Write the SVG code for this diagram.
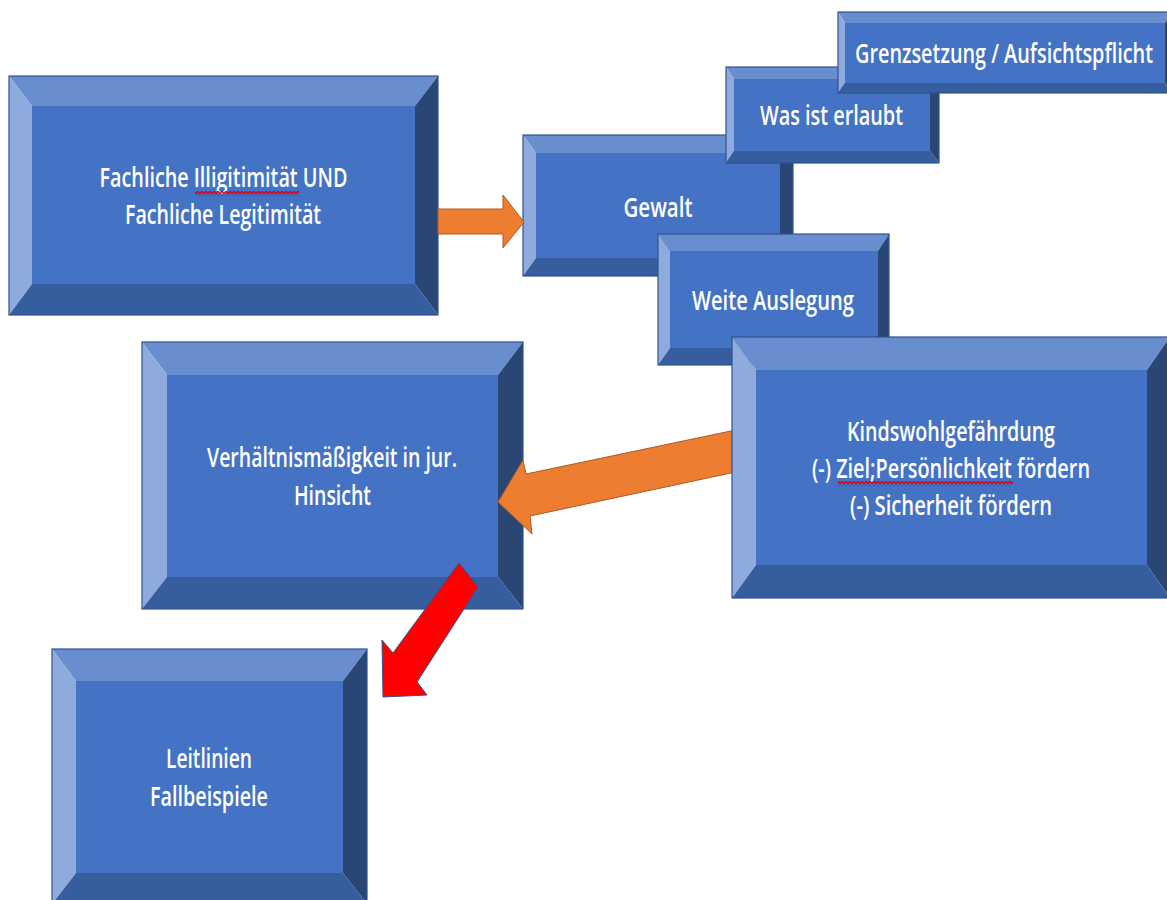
<svg xmlns="http://www.w3.org/2000/svg" width="1167" height="900" viewBox="0 0 1167 900">
  <defs>
    <style>
      .face { fill: #4472C4; }
      .bt { fill: #698ED0; }
      .bl { fill: #8FAADC; }
      .br { fill: #294675; }
      .bb { fill: #365E9E; }
      .edge { fill: none; stroke: #2F528F; stroke-width: 1.2; }
      .label { font-family: "Open Sans", "Liberation Sans", sans-serif; font-size: 27px; font-weight: 600; fill: #FFFFFF; text-anchor: middle; }
      .orange { fill: #ED7D31; stroke: #AE5A21; stroke-width: 1; stroke-linejoin: miter; }
      .red { fill: #FF0000; stroke: #2F528F; stroke-width: 1; }
    </style>
    <!-- wavy red spell-check underline -->
    <pattern id="squiggle" width="4" height="5" patternUnits="userSpaceOnUse">
      <path d="M0,4 L2,1 L4,4" fill="none" stroke="#E3000F" stroke-width="1.4"/>
    </pattern>
  </defs>

  <rect width="1167" height="900" fill="#FFFFFF"/>

  <!-- Fachliche Illigitimität UND Fachliche Legitimität -->
  <g id="fachlich">
    <rect class="face" x="32" y="106" width="383" height="178"/>
    <polygon class="bt" points="9,76 438,76 415,106 32,106"/>
    <polygon class="bl" points="9,76 32,106 32,284 9,315"/>
    <polygon class="br" points="438,76 438,315 415,284 415,106"/>
    <polygon class="bb" points="9,315 32,284 415,284 438,315"/>
    <rect class="edge" x="9" y="76" width="429" height="239"/>
    <text class="label" x="223.5" y="187" textLength="248" lengthAdjust="spacingAndGlyphs">Fachliche Illigitimität UND</text>
    <text class="label" x="223" y="224" textLength="196" lengthAdjust="spacingAndGlyphs">Fachliche Legitimität</text>
    <rect x="195" y="191" width="104" height="5" fill="url(#squiggle)"/>
  </g>

  <!-- Gewalt -->
  <g id="gewalt">
    <rect class="face" x="536" y="153" width="244" height="105"/>
    <polygon class="bt" points="523,135 793,135 780,153 536,153"/>
    <polygon class="bl" points="523,135 536,153 536,258 523,276"/>
    <polygon class="br" points="793,135 793,276 780,258 780,153"/>
    <polygon class="bb" points="523,276 536,258 780,258 793,276"/>
    <rect class="edge" x="523" y="135" width="270" height="141"/>
    <text class="label" x="658" y="217" textLength="69" lengthAdjust="spacingAndGlyphs">Gewalt</text>
  </g>

  <!-- Was ist erlaubt -->
  <g id="erlaubt">
    <rect class="face" x="734" y="79" width="196" height="72"/>
    <polygon class="bt" points="726,67 939,67 930,79 734,79"/>
    <polygon class="bl" points="726,67 734,79 734,151 726,163"/>
    <polygon class="br" points="939,67 939,163 930,151 930,79"/>
    <polygon class="bb" points="726,163 734,151 930,151 939,163"/>
    <rect class="edge" x="726" y="67" width="213" height="96"/>
    <text class="label" x="831.5" y="125" textLength="143" lengthAdjust="spacingAndGlyphs">Was ist erlaubt</text>
  </g>

  <!-- Grenzsetzung / Aufsichtspflicht -->
  <g id="grenzsetzung">
    <rect class="face" x="845" y="23" width="320" height="60"/>
    <polygon class="bt" points="838,12 1172,12 1165,23 845,23"/>
    <polygon class="bl" points="838,12 845,23 845,83 838,93"/>
    <polygon class="br" points="1172,12 1172,93 1165,83 1165,23"/>
    <polygon class="bb" points="838,93 845,83 1165,83 1172,93"/>
    <rect class="edge" x="838" y="12" width="334" height="81"/>
    <text class="label" x="1004" y="63" textLength="298" lengthAdjust="spacingAndGlyphs">Grenzsetzung / Aufsichtspflicht</text>
  </g>

  <!-- Weite Auslegung -->
  <g id="auslegung">
    <rect class="face" x="670" y="251" width="208" height="97"/>
    <polygon class="bt" points="658,234 889,234 878,251 670,251"/>
    <polygon class="bl" points="658,234 670,251 670,348 658,365"/>
    <polygon class="br" points="889,234 889,365 878,348 878,251"/>
    <polygon class="bb" points="658,365 670,348 878,348 889,365"/>
    <rect class="edge" x="658" y="234" width="231" height="131"/>
    <text class="label" x="773" y="310" textLength="162" lengthAdjust="spacingAndGlyphs">Weite Auslegung</text>
  </g>

  <!-- Verhältnismäßigkeit in jur. Hinsicht -->
  <g id="verhaeltnis">
    <rect class="face" x="167" y="375" width="331" height="202"/>
    <polygon class="bt" points="142,342 523,342 498,375 167,375"/>
    <polygon class="bl" points="142,342 167,375 167,577 142,609"/>
    <polygon class="br" points="523,342 523,609 498,577 498,375"/>
    <polygon class="bb" points="142,609 167,577 498,577 523,609"/>
    <rect class="edge" x="142" y="342" width="381" height="267"/>
    <text class="label" x="332" y="467" textLength="250" lengthAdjust="spacingAndGlyphs">Verhältnismäßigkeit in jur.</text>
    <text class="label" x="332.5" y="505" textLength="77" lengthAdjust="spacingAndGlyphs">Hinsicht</text>
  </g>

  <!-- Leitlinien / Fallbeispiele -->
  <g id="leitlinien">
    <rect class="face" x="76" y="681" width="267" height="192"/>
    <polygon class="bt" points="52,649 367,649 343,681 76,681"/>
    <polygon class="bl" points="52,649 76,681 76,873 52,904"/>
    <polygon class="br" points="367,649 367,904 343,873 343,681"/>
    <polygon class="bb" points="52,904 76,873 343,873 367,904"/>
    <rect class="edge" x="52" y="649" width="315" height="255"/>
    <text class="label" x="209" y="768" textLength="86" lengthAdjust="spacingAndGlyphs">Leitlinien</text>
    <text class="label" x="209" y="806" textLength="118" lengthAdjust="spacingAndGlyphs">Fallbeispiele</text>
  </g>

  <!-- block arrows -->
  <g id="connectors">
    <polygon class="orange" points="438,209 503,209 503,195 524,222 503,248 503,234 438,234"/>
    <polygon class="orange" points="745,428 526,474 523,460 498,502 532,534 530,516 745,470"/>
    <polygon class="red" points="459,563 393,653 382,640 383,697 427,695 417,682 478,587"/>
  </g>

  <!-- Kindswohlgefährdung -->
  <g id="kindswohl">
    <rect class="face" x="756" y="370" width="391" height="195"/>
    <polygon class="bt" points="732,337 1170,337 1147,370 756,370"/>
    <polygon class="bl" points="732,337 756,370 756,565 732,598"/>
    <polygon class="br" points="1170,337 1170,598 1147,565 1147,370"/>
    <polygon class="bb" points="732,598 756,565 1147,565 1170,598"/>
    <rect class="edge" x="732" y="337" width="438" height="261"/>
    <text class="label" x="951" y="441" textLength="208" lengthAdjust="spacingAndGlyphs">Kindswohlgefährdung</text>
    <text class="label" x="951" y="478" textLength="278" lengthAdjust="spacingAndGlyphs">(-) Ziel;Persönlichkeit fördern</text>
    <text class="label" x="951" y="515" textLength="202" lengthAdjust="spacingAndGlyphs">(-) Sicherheit fördern</text>
    <rect x="838" y="481" width="175" height="5" fill="url(#squiggle)"/>
  </g>
</svg>
